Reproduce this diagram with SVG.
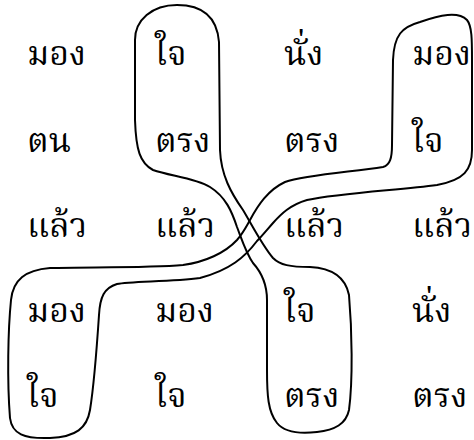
<svg xmlns="http://www.w3.org/2000/svg" width="474" height="440" viewBox="0 0 474 440">
<style>
text{font-family:"Noto Serif Thai","Noto Sans Thai Looped","Laksaman","Norasi","Kinnari","TlwgTypo","Garuda","Loma","Noto Sans Thai","DejaVu Sans",serif;font-size:34px;fill:#000}
.loop{fill:none;stroke:#000;stroke-width:2;stroke-linejoin:round}
</style>
<rect width="474" height="440" fill="#fff"/>
<g id="words">
<g id="c1"><text x="27" y="65">มอง</text><text x="27" y="152">ตน</text><text x="27" y="237">แล้ว</text><text x="27" y="322">มอง</text><text x="27" y="407">ใจ</text></g>
<g id="c2"><text x="155" y="65">ใจ</text><text x="155" y="152">ตรง</text><text x="155" y="237">แล้ว</text><text x="155" y="322">มอง</text><text x="155" y="407">ใจ</text></g>
<g id="c3"><text x="284" y="65">นั่ง</text><text x="284" y="152">ตรง</text><text x="284" y="237">แล้ว</text><text x="284" y="322">ใจ</text><text x="284" y="407">ตรง</text></g>
<g id="c4"><text x="412" y="65">มอง</text><text x="412" y="152">ใจ</text><text x="412" y="237">แล้ว</text><text x="412" y="322">นั่ง</text><text x="412" y="407">ตรง</text></g>
</g>
<g id="loops">
<path id="loopA" class="loop" d="M177,5 C202,5 217,17 219,42 L220,150 C221,175 231,193 243,210 C252,225 262,245 273,258 C280,265 290,267 310,267 C330,268 345,275 349,295 C352,330 353,380 349,410 C346,424 335,430 317,432 C300,434 285,433 277,423 C268,412 267,395 267,370 L267,300 C267,285 262,273 253,263 C246,253 242,240 237,227 C232,212 226,197 210,187 C195,178 170,176 153,170 C140,163 136,150 135,120 L135,40 C135,20 152,5 177,5 Z"/>
<path id="loopB" class="loop" d="M420,22 C440,15 458,11 467,20 C472,26 472,40 472,60 L472,150 C472,170 464,180 437,185 C400,190 340,193 307,200 C290,205 281,214 273,223 C266,231 262,236 257,241 C245,257 230,270 200,278 C170,282 130,281 117,284 C104,288 100,297 99,315 C97,345 94,385 90,410 C87,428 76,437 50,438 C24,439 12,434 10,418 C7,380 8,330 11,300 C13,280 25,270 50,268 C90,267 150,268 183,265 C205,262 225,253 237,240 C243,233 246,227 250,220 C258,205 268,190 285,182 C305,175 350,172 383,167 C390,165 392,158 392,145 L393,60 C394,35 402,27 420,22 Z"/>
</g>
</svg>
